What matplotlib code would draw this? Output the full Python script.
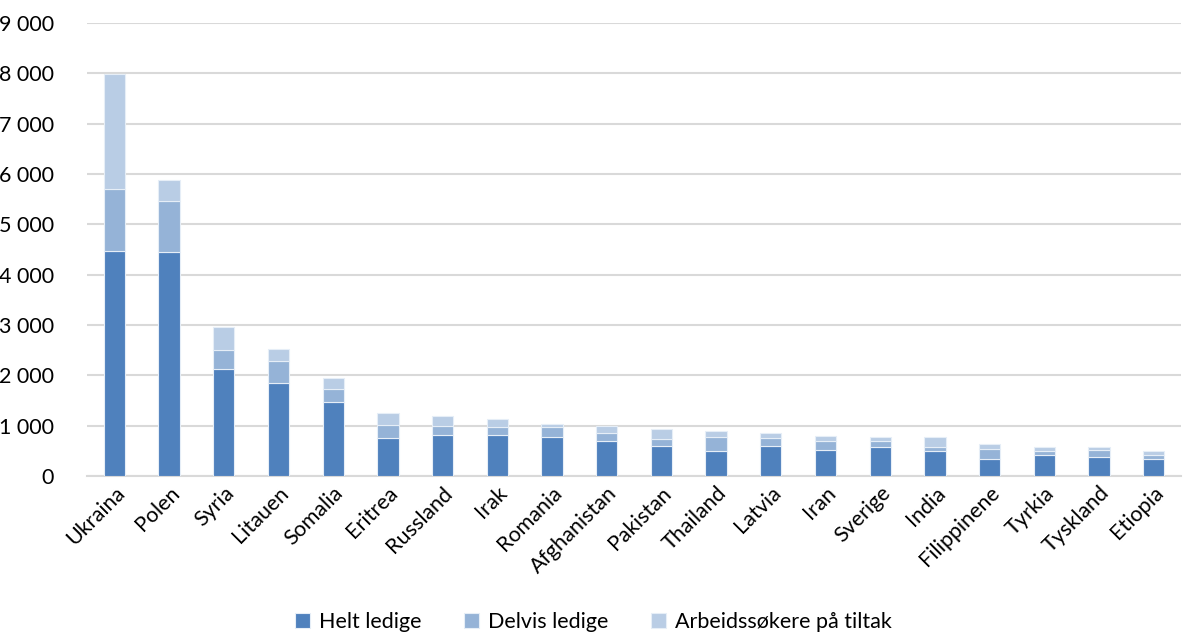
import numpy as np
import matplotlib
matplotlib.use("Agg")
import matplotlib.pyplot as plt
import matplotlib.ticker as ticker

plt.rcParams['font.family'] = ['Lato', 'DejaVu Sans']

countries = ["Ukraina", "Polen", "Syria", "Litauen", "Somalia", "Eritrea", "Russland",
             "Irak", "Romania", "Afghanistan", "Pakistan", "Thailand", "Latvia", "Iran",
             "Sverige", "India", "Filippinene", "Tyrkia", "Tyskland", "Etiopia"]
helt = [4470, 4440, 2130, 1850, 1470, 760, 815, 815, 775, 700,
        600, 500, 600, 520, 575, 500, 340, 420, 380, 340]
delvis = [1240, 1030, 380, 440, 260, 250, 180, 160, 200, 155,
          140, 280, 160, 165, 120, 80, 200, 80, 140, 80]
tiltak = [2270, 420, 440, 230, 220, 230, 200, 160, 60, 140,
          190, 120, 100, 110, 75, 190, 100, 80, 60, 80]
series = ["Helt ledige", "Delvis ledige", "Arbeidssøkere på tiltak"]
colors = ["#4F81BD", "#95B3D7", "#B9CDE5"]

fig = plt.figure(figsize=(11.87, 6.32), dpi=100)
ax = fig.add_axes([0.0733, 0.247, 0.9217, 0.7166])

x = np.arange(len(countries))
bottom = np.zeros(len(countries))
for vals, name, col in zip([helt, delvis, tiltak], series, colors):
    ax.bar(x, vals, width=0.39, bottom=bottom, color=col, label=name,
           edgecolor="#E6EEF7", linewidth=0.8, zorder=3)
    bottom += np.array(vals)

ax.set_xlim(-0.5, len(countries) - 0.5)
ax.set_ylim(0, 9000)
ax.yaxis.set_major_locator(ticker.MultipleLocator(1000))
ax.yaxis.set_major_formatter(ticker.FuncFormatter(lambda v, p: "{:,.0f}".format(v).replace(",", " ")))
ax.grid(axis="y", color="#D9D9D9", linewidth=1.5, zorder=0)
for s in ["top", "right", "left"]:
    ax.spines[s].set_visible(False)
ax.spines["bottom"].set_color("#D9D9D9")
ax.spines["bottom"].set_linewidth(1.5)
ax.tick_params(axis="both", length=0, labelsize=15.5, colors="black")
ax.tick_params(axis="y", pad=24)
ax.tick_params(axis="x", pad=5)
ax.set_xticks(x)
ax.set_xticklabels(countries, rotation=45, ha="right", rotation_mode="anchor")

fig.legend(loc="lower center", bbox_to_anchor=(0.5, -0.03), ncol=3, frameon=False,
           fontsize=15.5, handlelength=0.7, handleheight=0.7, columnspacing=2.0,
           handletextpad=0.4)

fig.savefig("out.png", dpi=100)
